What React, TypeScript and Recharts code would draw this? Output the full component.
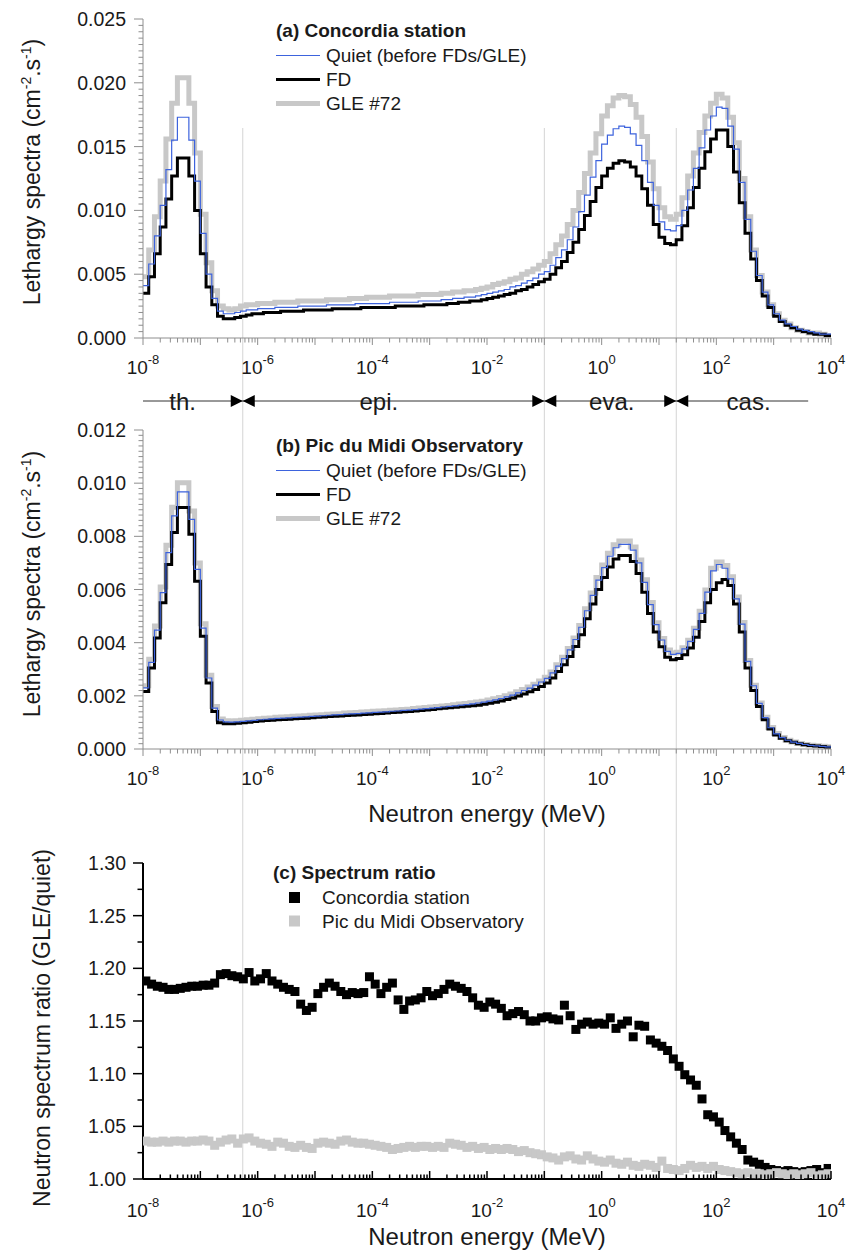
import React from 'react'
import {
  LineChart,
  Line,
  ScatterChart,
  Scatter,
  XAxis,
  YAxis,
  ReferenceLine,
  ReferenceDot,
  Legend,
  Label,
} from 'recharts'

const FONT = '"Liberation Sans", Arial, Helvetica, sans-serif'
const TEXT = '#1a1a1a'
const AXIS_GREY = '#8e8e8e'
const QUIET_COLOR = '#3d63dd'
const FD_COLOR = '#000000'
const GLE_COLOR = '#c8c8c8'
const PIC_COLOR = '#c8c8c8'

// 10 bins per decade, 1e-8 .. 1e4 MeV
const N_BINS = 120
const BIN_EDGES = Array.from({ length: N_BINS + 1 }, (_, k) => Math.pow(10, -8 + k / 10))
const BIN_CENTRES = Array.from({ length: N_BINS }, (_, k) => Math.pow(10, -8 + (k + 0.5) / 10))

// domain boundaries: thermal / epithermal / evaporation / cascade
const BOUNDARIES = [5.5e-7, 0.1, 20]
const REGION_NAMES = ['th.', 'epi.', 'eva.', 'cas.']
const REGION_LABEL_E = [4.9e-8, 1.3e-4, 1.5, 365]
const ARROW_LINE_END = 4000

// (a) Concordia station, lethargy spectra (cm-2.s-1)
const QUIET_A = [
  0.0041, 0.0058, 0.008, 0.0104, 0.0132, 0.0155, 0.0173, 0.0173, 0.0155, 0.0123,
  0.0082, 0.005, 0.0031, 0.0021, 0.0019, 0.0019, 0.002, 0.0021, 0.0022, 0.0022,
  0.0023, 0.0023, 0.0023, 0.0024, 0.0024, 0.0024, 0.0024, 0.0025, 0.0025, 0.0025,
  0.0025, 0.0025, 0.0026, 0.0026, 0.0026, 0.0026, 0.0026, 0.0027, 0.0027, 0.0027,
  0.0027, 0.0027, 0.0027, 0.0028, 0.0028, 0.0028, 0.0028, 0.0028, 0.0029, 0.0029,
  0.0029, 0.0029, 0.003, 0.003, 0.0031, 0.0031, 0.0032, 0.0032, 0.0033, 0.0034,
  0.0035, 0.0036, 0.0037, 0.0038, 0.004, 0.0041, 0.0043, 0.0045, 0.0047, 0.005,
  0.0052, 0.0057, 0.0063, 0.0069, 0.0077, 0.0087, 0.0099, 0.0112, 0.0126, 0.0139,
  0.0152, 0.0159, 0.0164, 0.0166, 0.0165, 0.016, 0.0151, 0.0139, 0.0122, 0.0104,
  0.0091, 0.0085, 0.0084, 0.0088, 0.01, 0.0116, 0.0133, 0.0149, 0.0163, 0.0174,
  0.0181, 0.018, 0.0166, 0.0148, 0.0122, 0.0093, 0.0068, 0.0049, 0.0036, 0.0026,
  0.0019, 0.0014, 0.0011, 0.0009, 0.0007, 0.0006, 0.0005, 0.0004, 0.0003, 0.0003,
]
const FD_A = [
  0.0035, 0.0048, 0.0066, 0.0087, 0.0109, 0.0127, 0.0141, 0.0141, 0.0127, 0.01,
  0.0066, 0.004, 0.0026, 0.0017, 0.0015, 0.0015, 0.0016, 0.0017, 0.0018, 0.0019,
  0.0019, 0.002, 0.002, 0.002, 0.0021, 0.0021, 0.0021, 0.0021, 0.0022, 0.0022,
  0.0022, 0.0022, 0.0022, 0.0023, 0.0023, 0.0023, 0.0023, 0.0023, 0.0024, 0.0024,
  0.0024, 0.0024, 0.0024, 0.0024, 0.0025, 0.0025, 0.0025, 0.0025, 0.0025, 0.0026,
  0.0026, 0.0026, 0.0026, 0.0027, 0.0027, 0.0028, 0.0028, 0.0029, 0.0029, 0.003,
  0.0031, 0.0032, 0.0033, 0.0034, 0.0035, 0.0037, 0.0038, 0.004, 0.0042, 0.0044,
  0.0046, 0.005, 0.0055, 0.006, 0.0067, 0.0075, 0.0085, 0.0096, 0.0107, 0.0118,
  0.0127, 0.0133, 0.0137, 0.0139, 0.0138, 0.0134, 0.0127, 0.0117, 0.0104, 0.0089,
  0.0079, 0.0074, 0.0073, 0.0077, 0.0088, 0.0102, 0.0118, 0.0133, 0.0146, 0.0156,
  0.0163, 0.0163, 0.015, 0.013, 0.0106, 0.0082, 0.0062, 0.0045, 0.0033, 0.0024,
  0.0017, 0.0013, 0.001, 0.0008, 0.0006, 0.0005, 0.0004, 0.0003, 0.0003, 0.0002,
]
const GLE_A = [
  0.0048, 0.0069, 0.0095, 0.0123, 0.0156, 0.0184, 0.0204, 0.0204, 0.0184, 0.0145,
  0.0097, 0.0059, 0.0037, 0.0025, 0.0023, 0.0022, 0.0023, 0.0025, 0.0026, 0.0026,
  0.0027, 0.0027, 0.0027, 0.0028, 0.0028, 0.0028, 0.0028, 0.0029, 0.0029, 0.0029,
  0.0029, 0.0029, 0.003, 0.003, 0.003, 0.003, 0.0031, 0.0031, 0.0031, 0.0032,
  0.0032, 0.0032, 0.0032, 0.0033, 0.0033, 0.0033, 0.0033, 0.0033, 0.0034, 0.0034,
  0.0034, 0.0034, 0.0035, 0.0035, 0.0036, 0.0036, 0.0037, 0.0037, 0.0038, 0.0039,
  0.004, 0.0042, 0.0043, 0.0044, 0.0046, 0.0047, 0.005, 0.0052, 0.0054, 0.0057,
  0.006, 0.0066, 0.0073, 0.008, 0.0089, 0.01, 0.0114, 0.0129, 0.0145, 0.016,
  0.0174, 0.0182, 0.0188, 0.019, 0.0189, 0.0183, 0.0173, 0.0158, 0.0138, 0.0117,
  0.0102, 0.0095, 0.0093, 0.0097, 0.011, 0.0127, 0.0145, 0.0161, 0.0174, 0.0184,
  0.0191, 0.0188, 0.0173, 0.0153, 0.0125, 0.0095, 0.0069, 0.0049, 0.0036, 0.0026,
  0.0019, 0.0014, 0.0011, 0.0008, 0.0006, 0.0005, 0.0004, 0.0004, 0.0003, 0.0002,
]

// (b) Pic du Midi Observatory
const QUIET_B = [
  0.0023, 0.00326, 0.00447, 0.00588, 0.00739, 0.00877, 0.00967, 0.00967, 0.00864, 0.00676,
  0.00455, 0.00267, 0.00154, 0.00109, 0.00102, 0.00101, 0.00102, 0.00104, 0.00106, 0.00108,
  0.0011, 0.00112, 0.00113, 0.00115, 0.00116, 0.00117, 0.00119, 0.0012, 0.00121, 0.00123,
  0.00124, 0.00125, 0.00127, 0.00128, 0.00129, 0.00131, 0.00132, 0.00133, 0.00135, 0.00136,
  0.00138, 0.00139, 0.0014, 0.00142, 0.00143, 0.00145, 0.00146, 0.00148, 0.0015, 0.00152,
  0.00154, 0.00156, 0.00158, 0.0016, 0.00162, 0.00165, 0.00167, 0.0017, 0.00173, 0.00176,
  0.0018, 0.00185, 0.0019, 0.00196, 0.00203, 0.00211, 0.0022, 0.00229, 0.0024, 0.00252,
  0.00266, 0.00286, 0.00312, 0.0034, 0.00373, 0.00412, 0.00458, 0.0052, 0.00578, 0.00635,
  0.00682, 0.00725, 0.00757, 0.0077, 0.0077, 0.00748, 0.007, 0.00627, 0.00543, 0.00468,
  0.0041, 0.00367, 0.00356, 0.0036, 0.00377, 0.00405, 0.0045, 0.0051, 0.0059, 0.0067,
  0.00694, 0.0068, 0.0064, 0.00565, 0.0047, 0.0033, 0.00238, 0.00172, 0.00118, 0.0008,
  0.00057, 0.00043, 0.00033, 0.00026, 0.00021, 0.00017, 0.00014, 0.00012, 0.0001, 0.00008,
]
const FD_B = [
  0.00216, 0.00305, 0.00418, 0.0055, 0.00694, 0.00814, 0.00908, 0.00908, 0.00808, 0.00631,
  0.00424, 0.00248, 0.00141, 0.00099, 0.00095, 0.00095, 0.00097, 0.00099, 0.00101, 0.00103,
  0.00105, 0.00107, 0.00108, 0.0011, 0.00111, 0.00112, 0.00114, 0.00115, 0.00116, 0.00118,
  0.00119, 0.0012, 0.00122, 0.00123, 0.00124, 0.00126, 0.00127, 0.00128, 0.0013, 0.00131,
  0.00133, 0.00134, 0.00135, 0.00137, 0.00138, 0.0014, 0.00141, 0.00143, 0.00145, 0.00147,
  0.00149, 0.00151, 0.00153, 0.00155, 0.00157, 0.00159, 0.00161, 0.00163, 0.00165, 0.00168,
  0.00172, 0.00176, 0.00181, 0.00186, 0.00192, 0.00199, 0.00207, 0.00215, 0.00224, 0.00235,
  0.00248, 0.00267, 0.00292, 0.00317, 0.00348, 0.00386, 0.0043, 0.0049, 0.00545, 0.006,
  0.00645, 0.00685, 0.00715, 0.00728, 0.00728, 0.00705, 0.0066, 0.0059, 0.0051, 0.0044,
  0.00385, 0.00345, 0.00336, 0.0034, 0.00355, 0.0038, 0.0042, 0.0048, 0.0055, 0.006,
  0.00625, 0.00638, 0.00615, 0.00545, 0.0044, 0.00305, 0.0022, 0.0016, 0.0011, 0.00075,
  0.00053, 0.0004, 0.00031, 0.00025, 0.0002, 0.00016, 0.00013, 0.00011, 0.00009, 0.00007,
]
const GLE_B = [
  0.00238, 0.00338, 0.00463, 0.00609, 0.00766, 0.00909, 0.01002, 0.01002, 0.00895, 0.007,
  0.00471, 0.00277, 0.0016, 0.00113, 0.00106, 0.00105, 0.00106, 0.00108, 0.0011, 0.00112,
  0.00114, 0.00116, 0.00117, 0.00119, 0.0012, 0.00121, 0.00123, 0.00124, 0.00125, 0.00127,
  0.00128, 0.00129, 0.00131, 0.00132, 0.00133, 0.00135, 0.00136, 0.00137, 0.00139, 0.0014,
  0.00142, 0.00143, 0.00144, 0.00146, 0.00147, 0.00149, 0.0015, 0.00152, 0.00154, 0.00156,
  0.00158, 0.0016, 0.00162, 0.00164, 0.00166, 0.00169, 0.00171, 0.00174, 0.00177, 0.0018,
  0.00184, 0.00189, 0.00194, 0.002, 0.00207, 0.00215, 0.00224, 0.00233, 0.00244, 0.00256,
  0.0027, 0.0029, 0.00317, 0.00345, 0.00378, 0.00418, 0.00465, 0.00528, 0.00587, 0.00645,
  0.00692, 0.00736, 0.00768, 0.00782, 0.00782, 0.0076, 0.00711, 0.00637, 0.00551, 0.00475,
  0.00416, 0.00372, 0.00361, 0.00364, 0.00381, 0.00409, 0.00454, 0.00518, 0.00598, 0.0068,
  0.00703, 0.0069, 0.00648, 0.00572, 0.00476, 0.00333, 0.0024, 0.00173, 0.00119, 0.00081,
  0.00058, 0.00043, 0.00033, 0.00026, 0.00021, 0.00017, 0.00014, 0.00012, 0.0001, 0.00008,
]

// (c) spectrum ratio GLE/quiet
const RATIO_CONCORDIA = [
  1.188, 1.185, 1.183, 1.182, 1.18, 1.18, 1.181, 1.182, 1.183, 1.183,
  1.184, 1.184, 1.186, 1.194, 1.195, 1.193, 1.192, 1.19, 1.196, 1.188,
  1.19, 1.195, 1.188, 1.185, 1.182, 1.18, 1.178, 1.166, 1.16, 1.163,
  1.176, 1.182, 1.186, 1.183, 1.178, 1.175, 1.177, 1.176, 1.177, 1.192,
  1.185, 1.176, 1.182, 1.186, 1.17, 1.161, 1.169, 1.17, 1.172, 1.178,
  1.174, 1.176, 1.18, 1.185, 1.183, 1.181, 1.178, 1.172, 1.165, 1.163,
  1.168, 1.166, 1.162, 1.155, 1.157, 1.159, 1.156, 1.15, 1.15, 1.153,
  1.154, 1.152, 1.151, 1.165, 1.155, 1.142, 1.147, 1.149, 1.147, 1.148,
  1.147, 1.153, 1.143, 1.147, 1.15, 1.135, 1.146, 1.145, 1.132, 1.129,
  1.126, 1.122, 1.114, 1.107, 1.099, 1.094, 1.089, 1.076, 1.061, 1.059,
  1.054, 1.046, 1.04, 1.034, 1.028, 1.018, 1.016, 1.014, 1.011, 1.009,
  1.008, 1.007, 1.008, 1.007, 1.006, 1.007, 1.008, 1.009, 1.006, 1.01,
]
const RATIO_PIC = [
  1.036, 1.035, 1.035, 1.036, 1.035, 1.036, 1.036, 1.035, 1.036, 1.036,
  1.037, 1.036, 1.032, 1.035, 1.037, 1.038, 1.034, 1.038, 1.039, 1.036,
  1.034, 1.033, 1.031, 1.035, 1.034, 1.031, 1.03, 1.032, 1.03, 1.029,
  1.034, 1.035, 1.034, 1.033, 1.036, 1.037, 1.035, 1.034, 1.034, 1.033,
  1.032, 1.031, 1.03, 1.028, 1.029, 1.03, 1.031, 1.03, 1.031, 1.031,
  1.03, 1.031, 1.03, 1.034, 1.033, 1.032, 1.03, 1.031, 1.029, 1.03,
  1.028, 1.029, 1.028, 1.029, 1.028, 1.026, 1.027, 1.025, 1.024, 1.023,
  1.021, 1.02, 1.018, 1.021, 1.022, 1.019, 1.018, 1.022, 1.019, 1.017,
  1.016, 1.018, 1.015, 1.014, 1.016, 1.013, 1.012, 1.014, 1.013, 1.011,
  1.017, 1.01, 1.009, 1.008, 1.01, 1.013, 1.011, 1.012, 1.01, 1.012,
  1.009, 1.008, 1.007, 1.006, 1.005, 1.006, 1.005, 1.005, 1.004, 1.005,
  1.006, 1.005, 1.004, 1.005, 1.004, 1.005, 1.006, 1.003, 1.004, 1.005,
]

const LEGEND_LABELS = ['Quiet (before FDs/GLE)', 'FD', 'GLE #72']
const RATIO_LABELS = ['Concordia station', 'Pic du Midi Observatory']

// log axis ticks: every d*10^n, labels on even decades
const DECADES = [-8, -7, -6, -5, -4, -3, -2, -1, 0, 1, 2, 3]
const X_TICKS = [
  ...DECADES.flatMap((n) => [1, 2, 3, 4, 5, 6, 7, 8, 9].map((d) => d * Math.pow(10, n))),
  1e4,
]
const X_DOMAIN = [1e-8, 1e4]

function stepRows(quiet: number[], fd: number[], gle: number[]) {
  // last edge repeats the last bin so the final step is closed
  return BIN_EDGES.map((e, k) => {
    const i = Math.min(k, N_BINS - 1)
    return { e, quiet: quiet[i], fd: fd[i], gle: gle[i] }
  })
}

const ROWS_A = stepRows(QUIET_A, FD_A, GLE_A)
const ROWS_B = stepRows(QUIET_B, FD_B, GLE_B)
const ROWS_C_CONC = BIN_CENTRES.map((e, k) => ({ e, r: RATIO_CONCORDIA[k] }))
const ROWS_C_PIC = BIN_CENTRES.map((e, k) => ({ e, r: RATIO_PIC[k] }))
// the overlay charts only need the x range; the invisible series keeps the chart alive
const FRAME_ROWS = X_DOMAIN.map((e) => ({ e, frame: 0 }))

function linearTicks(base: number, step: number, count: number) {
  return Array.from({ length: count }, (_, i) => base + i * step)
}

function makeYTick(cfg: {
  base: number
  step: number
  every: number
  digits: number
  major: number
  minor: number
  color: string
  width: number
}) {
  return (props: any) => {
    const { x, y, payload } = props
    const i = Math.round((payload.value - cfg.base) / cfg.step)
    const isMajor = i % cfg.every === 0
    const len = isMajor ? cfg.major : cfg.minor
    return (
      <g>
        <line x1={x - len} x2={x} y1={y} y2={y} stroke={cfg.color} strokeWidth={cfg.width} />
        {isMajor && (
          <text
            x={x - 17}
            y={y}
            dy="0.36em"
            textAnchor="end"
            fontSize={19.5}
            fontFamily={FONT}
            fill={TEXT}
          >
            {payload.value.toFixed(cfg.digits)}
          </text>
        )}
      </g>
    )
  }
}

function makeXTick(cfg: {
  inward: boolean
  major: number
  minor: number
  color: string
  width: number
  labelDy: number
}) {
  return (props: any) => {
    const { x, y, payload } = props
    const lg = Math.log10(payload.value)
    const n = Math.round(lg)
    const isMajor = Math.abs(lg - n) < 1e-6
    const len = isMajor ? cfg.major : cfg.minor
    const y2 = cfg.inward ? y - len : y + len
    return (
      <g>
        <line x1={x} x2={x} y1={y} y2={y2} stroke={cfg.color} strokeWidth={cfg.width} />
        {isMajor && n % 2 === 0 && (
          <text x={x} y={y + cfg.labelDy} textAnchor="middle" fontSize={19} fontFamily={FONT} fill={TEXT}>
            10
            <tspan dy={-10} fontSize={13}>
              {String(n)}
            </tspan>
          </text>
        )}
      </g>
    )
  }
}

function LethargyTitle({ x, y }: { x: number; y: number }) {
  return (
    <text
      transform={`translate(${x},${y}) rotate(-90)`}
      textAnchor="middle"
      fontSize={23}
      fontFamily={FONT}
      fill={TEXT}
    >
      Lethargy spectra (cm
      <tspan dy={-9} fontSize={14}>
        -2
      </tspan>
      <tspan dy={9}>.s</tspan>
      <tspan dy={-9} fontSize={14}>
        -1
      </tspan>
      <tspan dy={9}>)</tspan>
    </text>
  )
}

function EnergyTitle({ y }: { y: number }) {
  return (
    <text x={487} y={y} textAnchor="middle" fontSize={24} fontFamily={FONT} fill={TEXT}>
      Neutron energy (MeV)
    </text>
  )
}

function SpectrumLegend({ title }: { title: string }) {
  const strokes = [
    { color: QUIET_COLOR, width: 1.2 },
    { color: FD_COLOR, width: 3 },
    { color: GLE_COLOR, width: 5 },
  ]
  return (
    <svg width={300} height={110} style={{ overflow: 'visible', display: 'block' }}>
      <text x={6} y={22} fontSize={19} fontWeight="bold" fontFamily={FONT} fill={TEXT}>
        {title}
      </text>
      {LEGEND_LABELS.map((lab, i) => {
        const ly = 40.5 + i * 24
        return (
          <g key={lab}>
            <line x1={6} x2={50} y1={ly} y2={ly} stroke={strokes[i].color} strokeWidth={strokes[i].width} />
            <text x={56} y={ly + 6.5} fontSize={19} fontFamily={FONT} fill={TEXT}>
              {lab}
            </text>
          </g>
        )
      })}
    </svg>
  )
}

function RatioLegend() {
  const fills = [FD_COLOR, PIC_COLOR]
  return (
    <svg width={320} height={80} style={{ overflow: 'visible', display: 'block' }}>
      <text x={8} y={19} fontSize={19} fontWeight="bold" fontFamily={FONT} fill={TEXT}>
        (c) Spectrum ratio
      </text>
      {RATIO_LABELS.map((lab, i) => {
        const cy = 37.5 + i * 23.5
        return (
          <g key={lab}>
            <rect x={24} y={cy - 5.5} width={11} height={11} fill={fills[i]} />
            <text x={57} y={cy + 6.5} fontSize={19} fontFamily={FONT} fill={TEXT}>
              {lab}
            </text>
          </g>
        )
      })}
    </svg>
  )
}

type PanelProps = {
  rows: any[]
  top: number
  height: number
  marginTop: number
  xAxisHeight: number
  yMax: number
  yStep: number
  title: string
  titleY: number
  legendTop: number
  xTitleY?: number
}

function SpectrumPanel(p: PanelProps) {
  const count = Math.round(p.yMax / p.yStep) + 1
  return (
    <div style={{ position: 'absolute', left: 0, top: p.top }}>
      <LineChart width={851} height={p.height} data={p.rows} margin={{ top: p.marginTop, right: 20, bottom: 0, left: 0 }}>
        <XAxis
          dataKey="e"
          type="number"
          scale="log"
          domain={X_DOMAIN}
          allowDataOverflow
          ticks={X_TICKS}
          interval={0}
          height={p.xAxisHeight}
          tickSize={0}
          tickMargin={0}
          tickLine={false}
          axisLine={{ stroke: AXIS_GREY, strokeWidth: 1 }}
          tick={makeXTick({ inward: false, major: 7, minor: 4.5, color: AXIS_GREY, width: 1, labelDy: 35.5 })}
        >
          {p.xTitleY !== undefined && <Label content={() => <EnergyTitle y={p.xTitleY as number} />} />}
        </XAxis>
        <YAxis
          type="number"
          domain={[0, p.yMax]}
          allowDataOverflow
          ticks={linearTicks(0, p.yStep, count)}
          interval={0}
          width={143}
          tickSize={0}
          tickMargin={0}
          tickLine={false}
          axisLine={{ stroke: AXIS_GREY, strokeWidth: 1 }}
          tick={makeYTick({ base: 0, step: p.yStep, every: 10, digits: 3, major: 9, minor: 4.5, color: AXIS_GREY, width: 1 })}
        >
          <Label content={() => <LethargyTitle x={40} y={p.titleY} />} />
        </YAxis>
        <Legend
          layout="horizontal"
          verticalAlign="middle"
          align="center"
          wrapperStyle={{ left: 270, top: p.legendTop, width: 300, height: 110 }}
          content={() => <SpectrumLegend title={p.title} />}
        />
        <Line type="stepAfter" dataKey="gle" stroke={GLE_COLOR} strokeWidth={5} dot={false} activeDot={false} isAnimationActive={false} />
        <Line type="stepAfter" dataKey="fd" stroke={FD_COLOR} strokeWidth={3} dot={false} activeDot={false} isAnimationActive={false} />
        <Line type="stepAfter" dataKey="quiet" stroke={QUIET_COLOR} strokeWidth={1.2} dot={false} activeDot={false} isAnimationActive={false} />
      </LineChart>
    </div>
  )
}

function squareShape(size: number, fill: string) {
  return (props: any) => (
    <rect x={props.cx - size / 2} y={props.cy - size / 2} width={size} height={size} fill={fill} />
  )
}

function RatioPanel() {
  return (
    <div style={{ position: 'absolute', left: 0, top: 840 }}>
      <ScatterChart width={851} height={411} margin={{ top: 23, right: 20, bottom: 0, left: 0 }}>
        <XAxis
          dataKey="e"
          type="number"
          scale="log"
          domain={X_DOMAIN}
          allowDataOverflow
          ticks={X_TICKS}
          interval={0}
          height={72}
          tickSize={0}
          tickMargin={0}
          tickLine={false}
          axisLine={{ stroke: '#000', strokeWidth: 2 }}
          tick={makeXTick({ inward: true, major: 8, minor: 4.5, color: '#000', width: 1.5, labelDy: 38 })}
        >
          <Label content={() => <EnergyTitle y={405} />} />
        </XAxis>
        <YAxis
          dataKey="r"
          type="number"
          domain={[1, 1.3]}
          allowDataOverflow
          ticks={linearTicks(1, 0.025, 13)}
          interval={0}
          width={143}
          tickSize={0}
          tickMargin={0}
          tickLine={false}
          axisLine={{ stroke: '#000', strokeWidth: 2 }}
          tick={makeYTick({ base: 1, step: 0.025, every: 2, digits: 2, major: 10, minor: 5.5, color: '#000', width: 1.5 })}
        >
          <Label
            content={() => (
              <text
                transform="translate(50,188) rotate(-90)"
                textAnchor="middle"
                fontSize={23}
                fontFamily={FONT}
                fill={TEXT}
              >
                Neutron spectrum ratio (GLE/quiet)
              </text>
            )}
          />
        </YAxis>
        <Legend
          layout="horizontal"
          verticalAlign="middle"
          align="center"
          wrapperStyle={{ left: 265, top: 20, width: 320, height: 80 }}
          content={() => <RatioLegend />}
        />
        <Scatter data={ROWS_C_CONC} dataKey="r" shape={squareShape(9, FD_COLOR)} isAnimationActive={false} />
        <Scatter data={ROWS_C_PIC} dataKey="r" shape={squareShape(9, PIC_COLOR)} isAnimationActive={false} />
      </ScatterChart>
    </div>
  )
}

// light vertical lines at the domain boundaries, running through all panels
function BoundaryLines() {
  return (
    <div style={{ position: 'absolute', left: 0, top: 0 }}>
      <LineChart width={851} height={1251} data={FRAME_ROWS} margin={{ top: 128, right: 20, bottom: 72, left: 143 }}>
        <XAxis dataKey="e" type="number" scale="log" domain={X_DOMAIN} allowDataOverflow hide />
        <YAxis type="number" domain={[-1, 1]} allowDataOverflow hide />
        <Line dataKey="frame" stroke="none" dot={false} activeDot={false} isAnimationActive={false} />
        {BOUNDARIES.map((b) => (
          <ReferenceLine key={b} x={b} stroke="#d4d4d4" strokeWidth={1} ifOverflow="visible" />
        ))}
      </LineChart>
    </div>
  )
}

function ArrowPair({ cx, cy }: { cx: number; cy: number }) {
  return (
    <g>
      <polygon points={`${cx - 12},${cy - 6} ${cx},${cy} ${cx - 12},${cy + 6}`} fill="#000" />
      <polygon points={`${cx + 12},${cy - 6} ${cx},${cy} ${cx + 12},${cy + 6}`} fill="#000" />
    </g>
  )
}

function RegionRow() {
  return (
    <div style={{ position: 'absolute', left: 0, top: 386 }}>
      <LineChart width={851} height={30} data={FRAME_ROWS} margin={{ top: 0, right: 20, bottom: 0, left: 143 }}>
        <XAxis dataKey="e" type="number" scale="log" domain={X_DOMAIN} allowDataOverflow hide />
        <YAxis type="number" domain={[-1, 1]} allowDataOverflow hide />
        <Line dataKey="frame" stroke="none" dot={false} activeDot={false} isAnimationActive={false} />
        <ReferenceLine
          segment={[
            { x: X_DOMAIN[0], y: 0 },
            { x: ARROW_LINE_END, y: 0 },
          ]}
          stroke="#333"
          strokeWidth={1}
          ifOverflow="visible"
        />
        {BOUNDARIES.map((b) => (
          <ReferenceDot
            key={b}
            x={b}
            y={0}
            r={6}
            ifOverflow="visible"
            shape={(s: any) => <ArrowPair cx={s.cx} cy={s.cy} />}
          />
        ))}
        {REGION_NAMES.map((name, i) => (
          <ReferenceDot
            key={name}
            x={REGION_LABEL_E[i]}
            y={0}
            r={1}
            ifOverflow="visible"
            shape={(s: any) => (
              <text x={s.cx} y={s.cy + 9} textAnchor="middle" fontSize={24} fontFamily={FONT} fill={TEXT}>
                {name}
              </text>
            )}
          />
        ))}
      </LineChart>
    </div>
  )
}

export default function App() {
  return (
    <div
      style={{
        position: 'absolute',
        left: 0,
        top: 0,
        width: 851,
        height: 1251,
        background: '#fff',
        fontFamily: FONT,
        overflow: 'hidden',
      }}
    >
      <BoundaryLines />
      <RegionRow />
      <SpectrumPanel
        rows={ROWS_A}
        top={0}
        height={385}
        marginTop={19}
        xAxisHeight={47}
        yMax={0.025}
        yStep={0.0005}
        title="(a) Concordia station"
        titleY={172}
        legendTop={15}
      />
      <SpectrumPanel
        rows={ROWS_B}
        top={400}
        height={430}
        marginTop={30}
        xAxisHeight={81}
        yMax={0.012}
        yStep={0.0002}
        title="(b) Pic du Midi Observatory"
        titleY={184}
        legendTop={30}
        xTitleY={422}
      />
      <RatioPanel />
    </div>
  )
}
